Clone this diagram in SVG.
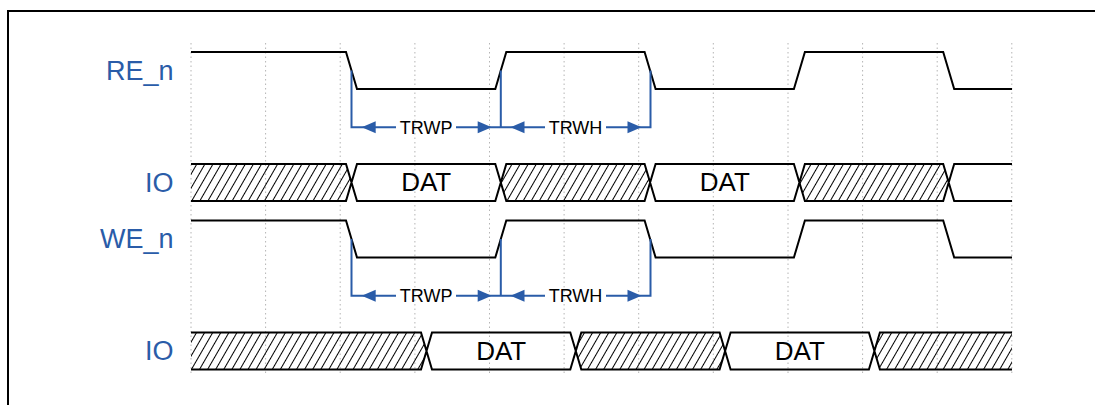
<svg xmlns="http://www.w3.org/2000/svg" width="1095" height="405" viewBox="0 0 1095 405">
<style>
.grid{stroke:#b4b4b4;stroke-width:1;stroke-dasharray:1.5 3;fill:none}
.sig{stroke:#000;stroke-width:2;fill:none;stroke-linejoin:miter}
.hatch{fill:url(#hatch);stroke:none}
.dim{stroke:#2a5ca8;stroke-width:2;fill:none}
.ah{fill:#2a5ca8}
.lbl{font-family:"Liberation Sans",Arial,sans-serif;font-size:27px;fill:#2a5ca8;text-anchor:end}
.dat{font-family:"Liberation Sans",Arial,sans-serif;font-size:26px;fill:#000;text-anchor:middle}
.tm{font-family:"Liberation Sans",Arial,sans-serif;font-size:18px;fill:#000;text-anchor:middle}
</style>
<defs>
<pattern id="hatch" patternUnits="userSpaceOnUse" width="7" height="10" patternTransform="rotate(30)">
<line x1="0.5" y1="-1" x2="0.5" y2="11" stroke="#000" stroke-width="1"/>
</pattern>
<path id="arr" d="M0,0 L14,-6 L14,6 Z"/>
</defs>
<rect x="8" y="11" width="1100" height="400" fill="#fff" stroke="#000" stroke-width="2"/>
<g id="grid">
<line class="grid" x1="191" y1="43" x2="191" y2="376"/>
<line class="grid" x1="265.6" y1="43" x2="265.6" y2="376"/>
<line class="grid" x1="340.2" y1="43" x2="340.2" y2="376"/>
<line class="grid" x1="414.9" y1="43" x2="414.9" y2="376"/>
<line class="grid" x1="489.5" y1="43" x2="489.5" y2="376"/>
<line class="grid" x1="564.1" y1="43" x2="564.1" y2="376"/>
<line class="grid" x1="638.7" y1="43" x2="638.7" y2="376"/>
<line class="grid" x1="713.3" y1="43" x2="713.3" y2="376"/>
<line class="grid" x1="788" y1="43" x2="788" y2="376"/>
<line class="grid" x1="862.6" y1="43" x2="862.6" y2="376"/>
<line class="grid" x1="937.2" y1="43" x2="937.2" y2="376"/>
<line class="grid" x1="1011.8" y1="43" x2="1011.8" y2="376"/>
</g>
<g id="re_n">
<text class="lbl" x="173.5" y="80">RE_n</text>
<path class="sig" d="M191,52 H346 L357,89 H495.3 L506.3,52 H644.6 L655.6,89 H793.9 L804.9,52 H943.2 L954.2,89 H1012"/>
</g>
<g id="io1">
<text class="lbl" x="173.5" y="191.7">IO</text>
<polygon class="hatch" points="191,164 346,164 351.5,182.5 346,201 191,201"/>
<polygon class="hatch" points="506.3,164 644.6,164 650.1,182.5 644.6,201 506.3,201 500.8,182.5"/>
<polygon class="hatch" points="804.9,164 943.2,164 948.7,182.5 943.2,201 804.9,201 799.4,182.5"/>
<path class="sig" d="M191,164 H346 L357,201 H495.3 L506.3,164 H644.6 L655.6,201 H793.9 L804.9,164 H943.2 L954.2,201 H1012 M191,201 H346 L357,164 H495.3 L506.3,201 H644.6 L655.6,164 H793.9 L804.9,201 H943.2 L954.2,164 H1012"/>
<text class="dat" x="426.2" y="191.3">DAT</text>
<text class="dat" x="724.8" y="191.3">DAT</text>
</g>
<g id="we_n">
<text class="lbl" x="173.5" y="248.4">WE_n</text>
<path class="sig" d="M191,220.5 H346 L357,257.5 H495.3 L506.3,220.5 H644.6 L655.6,257.5 H793.9 L804.9,220.5 H943.2 L954.2,257.5 H1012"/>
</g>
<g id="io2">
<text class="lbl" x="173.5" y="359.8">IO</text>
<polygon class="hatch" points="191,332.5 421,332.5 426.5,351 421,369.5 191,369.5"/>
<polygon class="hatch" points="581.3,332.5 719.6,332.5 725.1,351 719.6,369.5 581.3,369.5 575.8,351"/>
<polygon class="hatch" points="879.9,332.5 1012,332.5 1012,369.5 879.9,369.5 874.4,351"/>
<path class="sig" d="M191,332.5 H421 L432,369.5 H570.3 L581.3,332.5 H719.6 L730.6,369.5 H868.9 L879.9,332.5 H1012 M191,369.5 H421 L432,332.5 H570.3 L581.3,369.5 H719.6 L730.6,332.5 H868.9 L879.9,369.5 H1012"/>
<text class="dat" x="501.2" y="359.8">DAT</text>
<text class="dat" x="799.8" y="359.8">DAT</text>
</g>
<g id="connectors">
<g id="dim1">
<path class="dim" d="M351.5,70.5 V127.3 H396 M456,127.3 H500.8 M500.8,70.5 V127.3 H545 M606,127.3 H650.5 V70.5"/>
<use href="#arr" class="ah" transform="translate(361.7,127.3)"/>
<use href="#arr" class="ah" transform="translate(491.7,127.3) scale(-1,1)"/>
<use href="#arr" class="ah" transform="translate(510.5,127.3)"/>
<use href="#arr" class="ah" transform="translate(641.5,127.3) scale(-1,1)"/>
<text class="tm" x="426.2" y="133.6">TRWP</text>
<text class="tm" x="575.5" y="133.6">TRWH</text>
</g>
<g id="dim2">
<path class="dim" d="M351.5,239 V295.7 H396 M456,295.7 H500.8 M500.8,239 V295.7 H545 M606,295.7 H650.5 V239"/>
<use href="#arr" class="ah" transform="translate(361.7,295.7)"/>
<use href="#arr" class="ah" transform="translate(491.7,295.7) scale(-1,1)"/>
<use href="#arr" class="ah" transform="translate(510.5,295.7)"/>
<use href="#arr" class="ah" transform="translate(641.5,295.7) scale(-1,1)"/>
<text class="tm" x="426.2" y="302">TRWP</text>
<text class="tm" x="575.5" y="302">TRWH</text>
</g>
</g>
</svg>
